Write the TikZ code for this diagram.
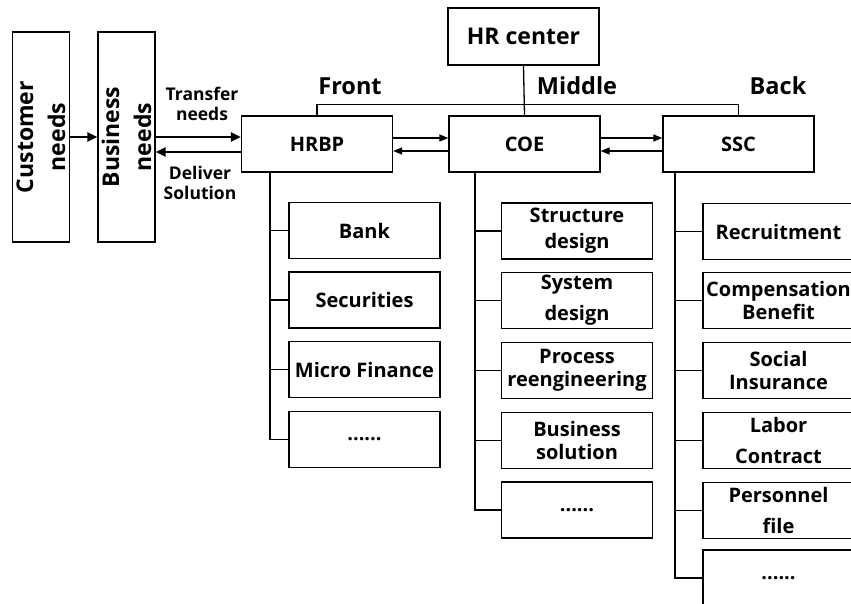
\documentclass[tikz,border=0pt]{standalone}
\usepackage{fontspec}
\setmainfont{Open Sans}
\usetikzlibrary{arrows.meta,calc}
\begin{document}
\begin{tikzpicture}[x=1pt,y=-1pt,
  box/.style={draw,line width=1.3pt,inner sep=0pt,align=center,font=\bfseries\fontsize{20}{23}\selectfont},
  kid/.style={box,minimum width=151pt,minimum height=56pt},
  head/.style={box,minimum width=151pt,minimum height=56pt},
  tall/.style={box,rotate=90,minimum width=210pt,minimum height=57pt,font=\bfseries\fontsize{23}{32}\selectfont},
  lab/.style={inner sep=0pt,align=center,font=\bfseries\fontsize{23.5}{26}\selectfont},
  small/.style={inner sep=0pt,align=center,font=\bfseries\fontsize{17.5}{20}\selectfont},
  link/.style={line width=1.3pt},
  bigarr/.style={line width=2.4pt,-{Triangle[length=10pt,width=9pt]}},
  arr/.style={line width=1.3pt,-{Triangle[length=9pt,width=7pt]}}
]
\useasboundingbox (0,0) rectangle (851,604);
\clip (0,0) rectangle (851,604);

% left column
\node[tall] (cust) at (41,137) {Customer\\needs};
\node[tall] (bus) at (126.5,137) {Business\\needs};

% heads
\node[head,minimum height=57pt,font=\bfseries\fontsize{23}{26}\selectfont] (hr) at (523.5,36.5) {HR center};
\node[head] (hrbp) at (317,144) {HRBP};
\node[head] (coe) at (524.5,144) {COE};
\node[head] (ssc) at (738.5,144) {SSC};

% labels
\node[lab] (lfront) at (350,86) {Front};
\node[lab] (lmid) at (577,86) {Middle};
\node[lab] (lback) at (778,86) {Back};
\node[small] (ltr) at (202,104) {Transfer\\needs};
\node[small] (ldel) at (200,183) {Deliver\\Solution};

% left arrows
\draw[bigarr] (cust.south) -- (bus.north);
\draw[bigarr] ([yshift=7pt]hrbp.west -| bus.south) -- ([yshift=7pt]hrbp.west);
\draw[bigarr] ([yshift=-8pt]hrbp.west) -- ([yshift=-8pt]hrbp.west -| bus.south);

% between heads
\draw[arr] ([yshift=6pt]hrbp.east) -- ([yshift=6pt]coe.west);
\draw[arr] ([yshift=-7pt]coe.west) -- ([yshift=-7pt]hrbp.east);
\draw[arr] ([yshift=6pt]coe.east) -- ([yshift=6pt]ssc.west);
\draw[arr] ([yshift=-7pt]ssc.west) -- ([yshift=-7pt]coe.east);

% top tree
\draw[link] (hr.south) -- (coe.north);
\draw[link] (hrbp.north) -- ++(0,-11) -| (ssc.north);

% HRBP children
\coordinate (spa) at (270,0);
\node[kid] (h1) at (364.5,230.5) {Bank};
\node[kid] (h2) at (364.5,300) {Securities};
\node[kid] (h3) at (364.5,369.5) {Micro Finance};
\node[kid] (h4) at (364.5,439.5) {......};
\draw[link] (spa |- hrbp.south) |- (h4.west);
\foreach \n in {h1,h2,h3} \draw[link] (\n.west) -- (\n.west -| spa);

% COE children
\coordinate (spb) at (475,0);
\node[kid,font=\bfseries\fontsize{20}{26}\selectfont] (c1) at (577,231) {Structure\\design};
\node[kid,font=\bfseries\fontsize{20}{31}\selectfont] (c2) at (577,300.5) {System\\design};
\node[kid] (c3) at (577,370.5) {Process\\reengineering};
\node[kid] (c4) at (577,440.5) {Business\\solution};
\node[kid] (c5) at (577,510) {......};
\draw[link] (spb |- coe.south) |- (c5.west);
\foreach \n in {c1,c2,c3,c4} \draw[link] (\n.west) -- (\n.west -| spb);

% SSC children
\coordinate (spc) at (675,0);
\node[kid] (s1) at (778.5,231.5) {Recruitment};
\node[kid] (s2) at (778.5,300.5) {Compensation\\Benefit};
\node[kid] (s3) at (778.5,370.5) {Social\\Insurance};
\node[kid,font=\bfseries\fontsize{20}{31}\selectfont] (s4) at (778.5,440.5) {Labor\\Contract};
\node[kid,font=\bfseries\fontsize{20}{31}\selectfont] (s5) at (778.5,510.5) {Personnel\\file};
\node[kid] (s6) at (778.5,578) {......};
\draw[link] (spc |- ssc.south) |- (s6.west);
\foreach \n in {s1,s2,s3,s4,s5} \draw[link] (\n.west) -- (\n.west -| spc);
\end{tikzpicture}
\end{document}
